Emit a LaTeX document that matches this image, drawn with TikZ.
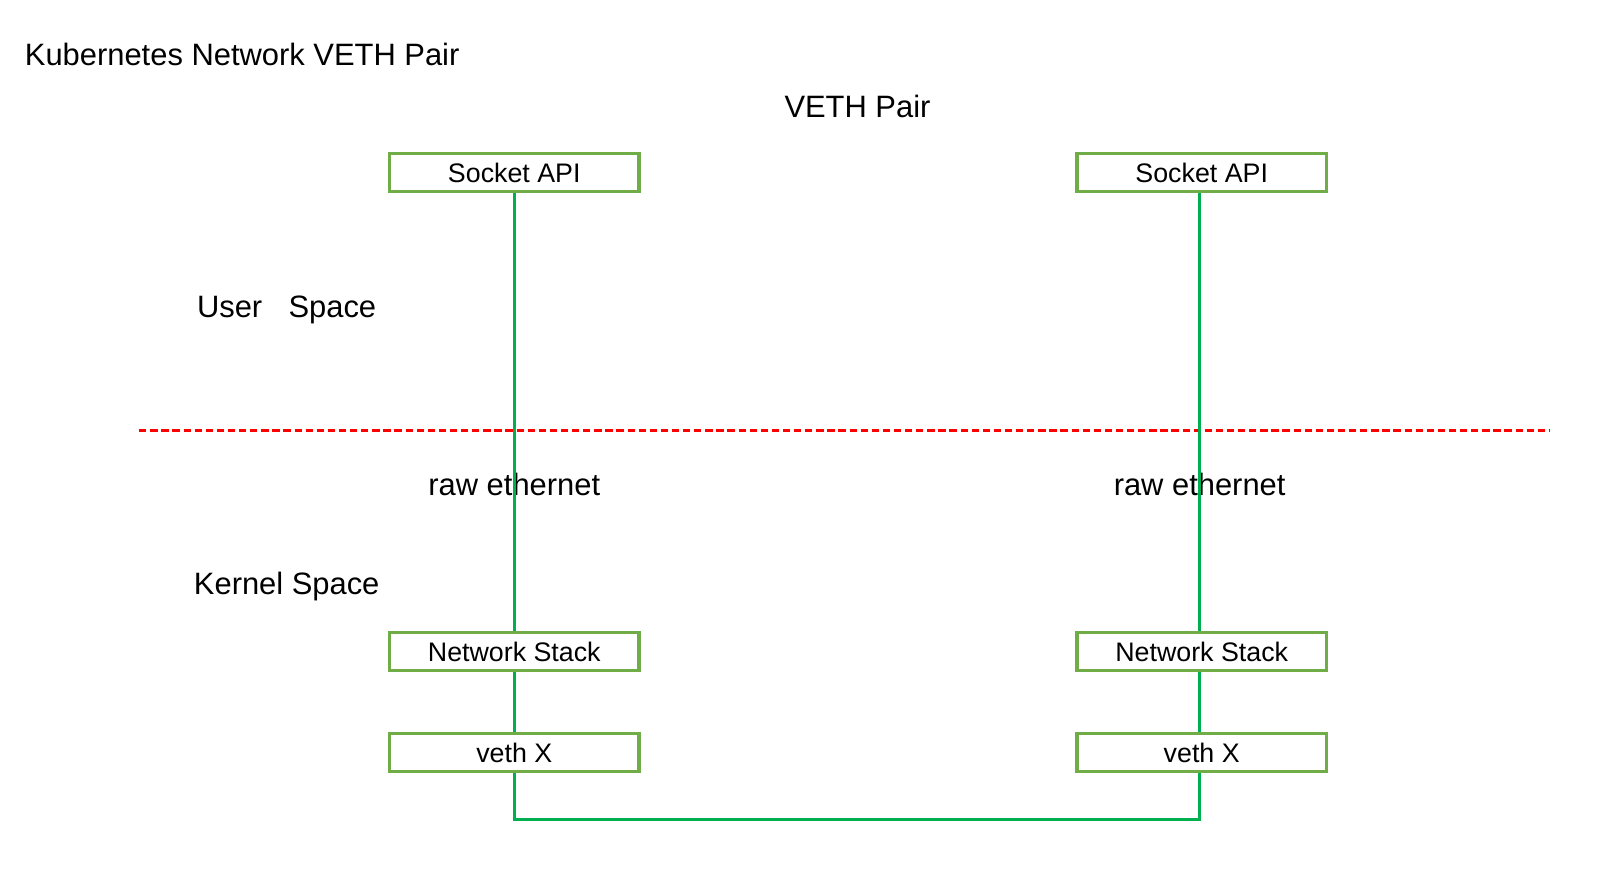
\documentclass[tikz,border=0pt]{standalone}
\usepackage{fontspec}
\setmainfont{Liberation Sans}
\definecolor{boxgreen}{HTML}{70AD47}
\definecolor{linegreen}{HTML}{00B050}
\definecolor{dashred}{HTML}{FF0000}
\begin{document}
\begin{tikzpicture}[x=1.0306pt,y=-1.0306pt,
  box/.style={draw=boxgreen,line width=3.1pt,minimum width=249.4pt,minimum height=38.1pt,inner sep=0pt,fill=white,font=\fontsize{26.8}{31}\selectfont},
  lbl/.style={inner sep=0pt,font=\fontsize{30.9}{37}\selectfont},
  link/.style={draw=linegreen,line width=3.1pt}]
\useasboundingbox (0,0) rectangle (1568,846.1);
\node[lbl,anchor=west] (title) at (24,53) {Kubernetes Network VETH Pair};
\node[lbl] (veth) at (832,103) {VETH Pair};
\node[lbl,anchor=west] (user) at (191,301) {User\hspace{0.85em}Space};
\node[lbl,anchor=west] (kernel) at (188,569) {Kernel Space};
\node[lbl] (rawL) at (499,470) {raw ethernet};
\node[lbl] (rawR) at (1164,470) {raw ethernet};
\coordinate (dl) at (135,418);
\coordinate (dr) at (1503,418);
\draw[dashred,line width=2.8pt,dash pattern=on 7.3pt off 3.8pt] (dl) -- (dr);
\node[box] (sockL) at (499,167.5) {Socket API};
\node[box] (sockR) at (1166,167.5) {Socket API};
\node[box] (netL) at (499,632.5) {Network Stack};
\node[box] (netR) at (1166,632.5) {Network Stack};
\node[box] (vethL) at (499,730.5) {veth X};
\node[box] (vethR) at (1166,730.5) {veth X};
\coordinate (bl) at (499,795);
\coordinate (br) at (1164,795);
\draw[link] (sockL.south) -- (netL.north);
\draw[link] (netL.south) -- (vethL.north);
\draw[link] (br |- sockR.south) -- (br |- netR.north);
\draw[link] (br |- netR.south) -- (br |- vethR.north);
\draw[link] (vethL.south) -- (bl) -- (br) -- (br |- vethR.south);
\end{tikzpicture}
\end{document}
